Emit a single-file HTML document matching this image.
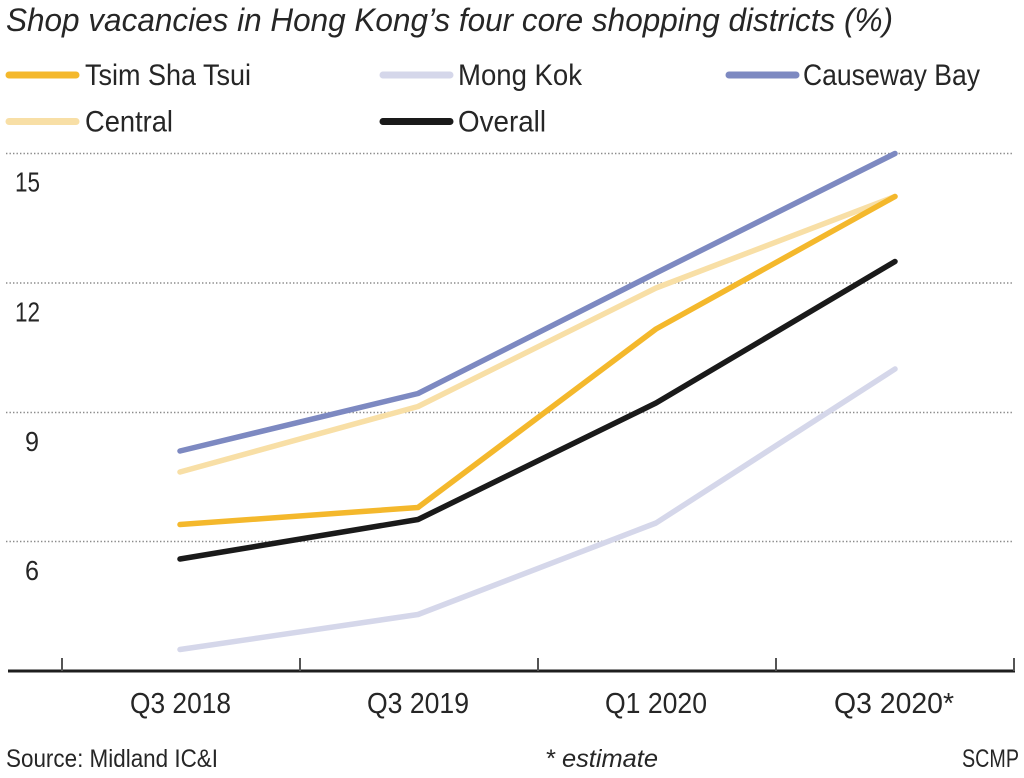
<!DOCTYPE html>
<html>
<head>
<meta charset="utf-8">
<style>
  html, body { margin: 0; padding: 0; background: #ffffff; }
  svg { display: block; }
  text { font-family: "Liberation Sans", "DejaVu Sans", sans-serif; fill: #262626; }
</style>
</head>
<body>
<svg width="1024" height="778" viewBox="0 0 1024 778" xmlns="http://www.w3.org/2000/svg">
  <rect width="1024" height="778" fill="#ffffff"/>

  <!-- Title -->
  <text x="6" y="31" font-size="32" font-style="italic" textLength="887" lengthAdjust="spacingAndGlyphs">Shop vacancies in Hong Kong’s four core shopping districts (%)</text>

  <!-- Legend -->
  <g stroke-width="7" stroke-linecap="round" fill="none">
    <line x1="9" y1="75" x2="76" y2="75" stroke="#f4b82c"/>
    <line x1="383" y1="75" x2="450" y2="75" stroke="#d5d7ea"/>
    <line x1="729" y1="75" x2="796" y2="75" stroke="#7d89c1"/>
    <line x1="9" y1="121.5" x2="76" y2="121.5" stroke="#f8dfa6"/>
    <line x1="383" y1="121.5" x2="450" y2="121.5" stroke="#1a1a1a"/>
  </g>
  <text x="85" y="85" font-size="30" textLength="166" lengthAdjust="spacingAndGlyphs">Tsim Sha Tsui</text>
  <text x="458" y="85" font-size="30" textLength="124" lengthAdjust="spacingAndGlyphs">Mong Kok</text>
  <text x="803" y="85" font-size="30" textLength="177" lengthAdjust="spacingAndGlyphs">Causeway Bay</text>
  <text x="85" y="131.5" font-size="30" textLength="88" lengthAdjust="spacingAndGlyphs">Central</text>
  <text x="458" y="131.5" font-size="30" textLength="88" lengthAdjust="spacingAndGlyphs">Overall</text>

  <!-- Gridlines (dotted) -->
  <g stroke="#8a8a8a" stroke-width="1.6" stroke-dasharray="1.4 2.1" fill="none">
    <line x1="6" y1="153.5" x2="1012" y2="153.5"/>
    <line x1="6" y1="283" x2="1012" y2="283"/>
    <line x1="6" y1="412.5" x2="1012" y2="412.5"/>
    <line x1="6" y1="541.5" x2="1012" y2="541.5"/>
  </g>

  <!-- Y labels -->
  <text x="15" y="191.5" font-size="28" textLength="25" lengthAdjust="spacingAndGlyphs">15</text>
  <text x="15" y="321.5" font-size="28" textLength="25" lengthAdjust="spacingAndGlyphs">12</text>
  <text x="25" y="451" font-size="28" textLength="14" lengthAdjust="spacingAndGlyphs">9</text>
  <text x="25" y="580" font-size="28" textLength="14" lengthAdjust="spacingAndGlyphs">6</text>

  <!-- Series -->
  <g fill="none" stroke-width="5.5" stroke-linecap="round" stroke-linejoin="round">
    <polyline stroke="#d5d7ea" points="180,649.5 418,614.5 656,523 895,369"/>
    <polyline stroke="#7d89c1" points="180,451 418,393.5 656,273 895,153.5"/>
    <polyline stroke="#f8dfa6" points="180,472 418,406.5 656,288 895,196.5"/>
    <polyline stroke="#f4b82c" points="180,524.5 418,507.5 656,329 895,196.5"/>
    <polyline stroke="#1a1a1a" points="180,559 418,519.5 656,403 895,261.5"/>
  </g>

  <!-- X axis -->
  <line x1="8" y1="671" x2="1015" y2="671" stroke="#1e1e1e" stroke-width="3"/>
  <g stroke="#555555" stroke-width="2">
    <line x1="62" y1="658" x2="62" y2="671"/>
    <line x1="300" y1="658" x2="300" y2="671"/>
    <line x1="538" y1="658" x2="538" y2="671"/>
    <line x1="776" y1="658" x2="776" y2="671"/>
    <line x1="1014" y1="658" x2="1014" y2="671"/>
  </g>

  <!-- X labels -->
  <text x="130" y="713" font-size="29" textLength="101" lengthAdjust="spacingAndGlyphs">Q3 2018</text>
  <text x="367" y="713" font-size="29" textLength="102" lengthAdjust="spacingAndGlyphs">Q3 2019</text>
  <text x="605" y="713" font-size="29" textLength="102" lengthAdjust="spacingAndGlyphs">Q1 2020</text>
  <text x="834" y="713" font-size="29" textLength="120" lengthAdjust="spacingAndGlyphs">Q3 2020*</text>

  <!-- Footer -->
  <text x="6" y="767" font-size="25" textLength="212" lengthAdjust="spacingAndGlyphs">Source: Midland IC&amp;I</text>
  <text x="545" y="767" font-size="25" font-style="italic" textLength="113" lengthAdjust="spacingAndGlyphs">* estimate</text>
  <text x="962" y="767" font-size="25" textLength="57" lengthAdjust="spacingAndGlyphs">SCMP</text>
</svg>
</body>
</html>
